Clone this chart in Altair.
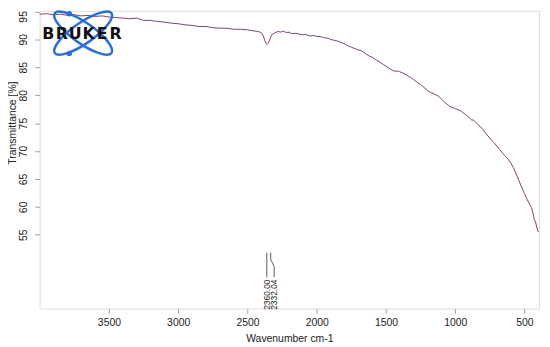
import altair as alt
import pandas as pd

# ---------------- data ----------------
wavenumber = [4000, 3950, 3900, 3850, 3800, 3750, 3700, 3650, 3600, 3550,
              3500, 3450, 3400, 3350, 3300, 3250, 3200, 3150, 3100, 3050,
              3000, 2950, 2900, 2850, 2800, 2750, 2700, 2650, 2600, 2550,
              2500, 2450, 2420, 2400, 2385, 2375, 2365, 2358, 2350, 2340,
              2330, 2320, 2300, 2280, 2260, 2240, 2220, 2200, 2180, 2150,
              2120, 2100, 2080, 2050, 2020, 2000, 1970, 1950, 1920, 1900,
              1870, 1850, 1820, 1800, 1780, 1750, 1720, 1700, 1680, 1650,
              1620, 1600, 1570, 1550, 1520, 1500, 1470, 1450, 1430, 1410,
              1400, 1390, 1370, 1350, 1320, 1300, 1270, 1250, 1220, 1200,
              1170, 1150, 1120, 1100, 1080, 1060, 1050, 1040, 1020, 1000,
              980, 960, 950, 930, 910, 890, 880, 870, 850, 830,
              800, 780, 750, 720, 700, 680, 650, 620, 600, 580,
              560, 540, 520, 500, 480, 460, 450, 440, 430, 420,
              410, 400]
transmittance = [94.5, 94.6, 94.4, 94.5, 94.3, 94.4, 94.2, 94.3, 94.1, 94.2,
                 94.0, 93.9, 93.8, 93.7, 93.8, 93.4, 93.4, 93.2, 93.1, 92.9,
                 92.8, 92.6, 92.5, 92.3, 92.3, 92.1, 92.0, 92.0, 91.8, 91.8,
                 91.7, 91.5, 91.4, 91.2, 90.6, 89.8, 89.3, 89.1, 89.3, 89.9,
                 90.5, 90.9, 91.2, 91.4, 91.3, 91.5, 91.2, 91.3, 91.0, 91.1,
                 90.9, 90.8, 90.9, 90.6, 90.7, 90.5, 90.5, 90.3, 90.2, 90.0,
                 89.8, 89.7, 89.4, 89.2, 88.9, 88.6, 88.3, 88.1, 88.0, 87.5,
                 87.0, 86.8, 86.3, 86.0, 85.5, 85.2, 84.7, 84.4, 84.3, 84.3,
                 84.2, 84.1, 83.9, 83.6, 83.1, 82.8, 82.2, 81.9, 81.3, 80.8,
                 80.4, 80.2, 79.8, 79.3, 78.8, 78.4, 78.2, 78.0, 77.8, 77.6,
                 77.4, 77.2, 77.0, 76.6, 76.2, 75.8, 75.5, 75.6, 75.1, 74.6,
                 73.9, 73.2, 72.3, 71.5, 70.9, 70.3, 69.4, 68.6, 67.9, 67.0,
                 65.9, 64.7, 63.5, 62.4, 61.3, 60.3, 59.9, 59.0, 57.8, 57.3,
                 56.2, 55.5]

x_ticks = [3500, 3000, 2500, 2000, 1500, 1000, 500]
y_ticks = [55, 60, 65, 70, 75, 80, 85, 90, 95]

# peak annotation (label text, leader line points)
peak_names = ["2360.00", "2360.00", "2332.04", "2332.04", "2332.04", "2332.04"]
peak_line_x = [2360, 2360, 2332, 2332, 2307, 2307]
peak_line_y = [51.8, 47.4, 51.8, 50.6, 49.3, 47.4]
peak_label_text = ["2360.00", "2332.04"]
peak_label_x = [2360, 2307]
peak_label_y = [47.0, 47.0]

logo_letters = list("BRUKER")

# ---------------- chart ----------------
spec = pd.DataFrame({"wn": wavenumber, "t": transmittance})
leader = pd.DataFrame({"peak": peak_names, "wn": peak_line_x, "t": peak_line_y})
labels = pd.DataFrame({"label": peak_label_text, "wn": peak_label_x, "t": peak_label_y})
logo = pd.DataFrame({"letter": logo_letters, "i": list(range(len(logo_letters)))})

FONT = "Liberation Sans"
GREY = "#a0a0a0"
BLUE = "#2a6fd8"

x_scale = alt.Scale(domain=[4000, 395], nice=False, zero=False)
y_scale = alt.Scale(domain=[41.8, 95.1], nice=False, zero=False)

x_axis = alt.Axis(values=x_ticks, format="d", title="Wavenumber cm-1", grid=False,
                  domain=False, tickColor=GREY, tickSize=5, tickWidth=1,
                  labelFont=FONT, labelFontSize=10.5, labelColor="#222", labelPadding=4,
                  labelOverlap=False,
                  titleFont=FONT, titleFontSize=10.5, titleFontWeight="normal",
                  titleColor="#222", titleY=30, titleBaseline="middle")
y_axis = alt.Axis(values=y_ticks, format="d", title="Transmittance [%]", grid=False,
                  domain=False, tickColor=GREY, tickSize=5, tickWidth=1,
                  labelFont=FONT, labelFontSize=10.5, labelColor="#222", labelAngle=270,
                  labelAlign="center", labelBaseline="bottom", labelPadding=6,
                  labelOverlap=False, labelBound=False,
                  labelOffset={"condition": {"test": "datum.value >= 95", "value": 5},
                               "value": 0},
                  titleFont=FONT, titleFontSize=10.5, titleFontWeight="normal",
                  titleColor="#222", titleAngle=270, titleX=-27.5, titleY=113,
                  titleAlign="center", titleBaseline="middle")

X = alt.X("wn:Q", scale=x_scale, axis=x_axis)
Y = alt.Y("t:Q", scale=y_scale, axis=y_axis)

line = alt.Chart(spec).mark_line(color="#7a4374", strokeWidth=1).encode(
    x=X, y=Y,
    order=alt.Order("wn:Q", sort="descending"),
)

lead = alt.Chart(leader).mark_line(color="#333", strokeWidth=0.8).encode(
    x=X, y=Y,
    detail="peak:N",
    order=alt.Order("t:Q", sort="descending"),
)

peak_text = alt.Chart(labels).mark_text(angle=270, align="right", baseline="middle",
                                        font=FONT, fontSize=8.5, color="#222").encode(
    x=X, y=Y,
    text="label:N",
)

ELLIPSE = "M -1 0 A 1 0.3 0 1 1 1 0 A 1 0.3 0 1 1 -1 0 Z"
first = "datum.wn == 4000"
orbit1 = alt.Chart(spec).mark_point(shape=ELLIPSE, size=4900, filled=False,
                                    strokeWidth=2.5, color=BLUE, opacity=1,
                                    angle=35).encode(
    x=alt.value(44), y=alt.value(22.5)).transform_filter(first)
orbit2 = alt.Chart(spec).mark_point(shape=ELLIPSE, size=4900, filled=False,
                                    strokeWidth=2.5, color=BLUE, opacity=1,
                                    angle=145).encode(
    x=alt.value(44), y=alt.value(22.5)).transform_filter(first)
dot1 = alt.Chart(spec).mark_point(shape="circle", size=30, filled=True,
                                  color=BLUE, opacity=1).encode(
    x=alt.value(30), y=alt.value(3)).transform_filter(first)
dot2 = alt.Chart(spec).mark_point(shape="circle", size=30, filled=True,
                                  color=BLUE, opacity=1).encode(
    x=alt.value(30), y=alt.value(43)).transform_filter(first)

logo_text = alt.Chart(logo).mark_text(font="DejaVu Sans", fontSize=16, fontWeight="bold",
                                      color="#111", baseline="middle", align="center").encode(
    x=alt.X("px:Q", scale=None),
    y=alt.value(23.5),
    text="letter:N",
).transform_calculate(px="8.8 + datum.i * 13.6")

chart = alt.layer(line, lead, peak_text, orbit1, orbit2, dot1, dot2, logo_text).properties(
    width=505, height=301,
    autosize=alt.AutoSizeParams(type="none"),
    padding={"left": 32, "top": 1, "right": 3, "bottom": 36},
).configure_view(stroke=GREY, strokeWidth=1.5).configure_axis(
    labelOverlap=False
).configure(background="white")

chart.save("out.html", embed_options={"renderer": "svg", "actions": False})
